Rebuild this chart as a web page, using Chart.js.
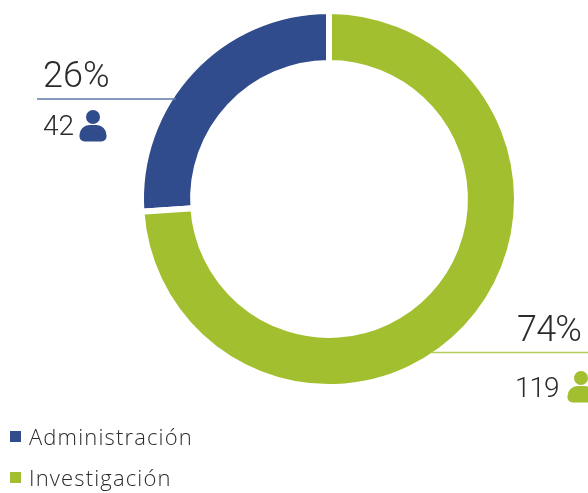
<!DOCTYPE html>
<html>
<head>
<meta charset="utf-8">
<style>
html,body{margin:0;padding:0;background:#fff}
#wrap{position:relative;width:588px;height:493px;overflow:hidden}
canvas{display:block}
</style>
<script src="https://cdn.jsdelivr.net/npm/chart.js@4"></script>
</head>
<body>
<div id="wrap"><canvas id="c" width="588" height="493"></canvas></div>
<script>
const categories = ['Administración', 'Investigación'];
const people = [42, 119];
const percentLabels = ['26%', '74%'];
const colors = ['#304c8c', '#a2bf2f'];
const total = people[0] + people[1];

function drawPerson(ctx, x, y, color) {
  // x,y = icon's top-centre
  ctx.fillStyle = color;
  ctx.beginPath();
  ctx.arc(x, y + 7, 7, 0, Math.PI * 2);
  ctx.fill();
  ctx.beginPath();
  ctx.roundRect(x - 13.5, y + 15, 27, 16.5, [10, 10, 5, 5]);
  ctx.fill();
}

const annotations = {
  id: 'annotations',
  afterDraw(chart) {
    const ctx = chart.ctx;
    ctx.save();
    ctx.textBaseline = 'alphabetic';
    // leader lines
    ctx.lineWidth = 1.4;
    ctx.strokeStyle = '#5f77a9';
    ctx.beginPath(); ctx.moveTo(37, 99); ctx.lineTo(176, 99); ctx.stroke();
    ctx.strokeStyle = '#b5cd5a';
    ctx.beginPath(); ctx.moveTo(431, 352.5); ctx.lineTo(588, 352.5); ctx.stroke();
    // labels
    ctx.fillStyle = '#2b2b2b';
    ctx.textAlign = 'left';
    ctx.font = '300 36px Roboto';
    ctx.fillText(percentLabels[0], 43, 87);
    ctx.letterSpacing = '-0.8px';
    ctx.fillText(percentLabels[1], 517, 341);
    ctx.font = '300 28px Roboto';
    ctx.letterSpacing = '0px';
    ctx.fillText(String(people[0]), 43, 135);
    ctx.letterSpacing = '-1px';
    ctx.fillText(String(people[1]), 515, 397);
    drawPerson(ctx, 93, 110, colors[0]);
    drawPerson(ctx, 581, 371, colors[1]);
    // legend
    ctx.font = '300 22px "Open Sans"';
    ctx.letterSpacing = '1.15px';
    [[431, 445], [472, 486]].forEach(([sq, base], i) => {
      ctx.fillStyle = colors[i];
      ctx.fillRect(10, sq, 11, 11);
      ctx.fillStyle = '#2b2b2b';
      ctx.fillText(categories[i], 29, base);
    });
    ctx.restore();
  }
};

new Chart(document.getElementById('c'), {
  type: 'doughnut',
  data: {
    labels: categories,
    datasets: [{
      data: people,
      backgroundColor: colors,
      borderColor: '#ffffff',
      borderWidth: 6
    }]
  },
  options: {
    responsive: false,
    animation: false,
    rotation: -360 * people[0] / total,
    cutout: '72.3%',
    layout: { padding: { left: 138, right: 68, top: 8, bottom: 103 } },
    plugins: { legend: { display: false }, tooltip: { enabled: false } }
  },
  plugins: [annotations]
});
</script>
</body>
</html>
